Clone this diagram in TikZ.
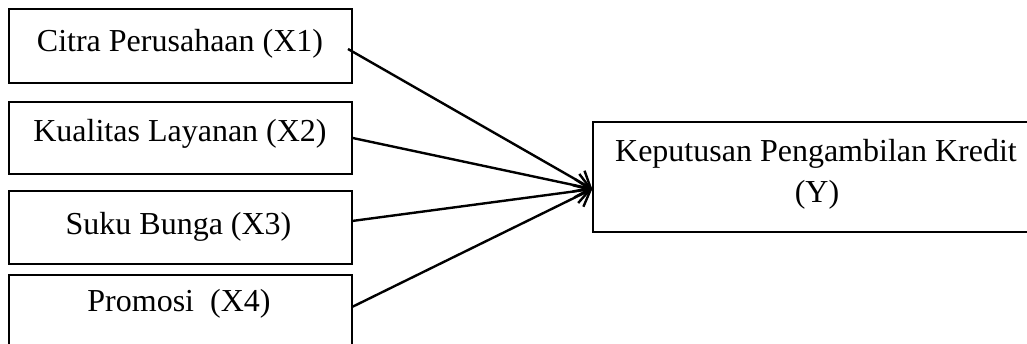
\documentclass[tikz,border=0pt]{standalone}
\usepackage{fontspec}
\setmainfont{Liberation Serif}
\usetikzlibrary{arrows.meta,calc}
\begin{document}
\begin{tikzpicture}[x=1pt,y=-1pt,
  box/.style={draw=black, line width=1.4pt, rectangle, inner sep=0pt},
  lbl/.style={anchor=base, inner sep=0pt, font=\fontsize{32pt}{41pt}\selectfont},
  conn/.style={line width=2.4pt, -{Straight Barb[length=14pt,width=24pt,line width=2.4pt]}}]
\useasboundingbox (0,0) rectangle (1027,344);
\begin{scope}
\clip (0,0) rectangle (1027,344);
\node[box, minimum width=343pt, minimum height=74pt] (b1) at (180.5,46) {};
\node[box, minimum width=343pt, minimum height=72pt] (b2) at (180.5,138) {};
\node[box, minimum width=343pt, minimum height=73pt] (b3) at (180.5,227.5) {};
\node[box, minimum width=343pt, minimum height=90pt] (b4) at (180.5,320) {};
\node[box, minimum width=450pt, minimum height=110pt] (b5) at (818,177) {};
\end{scope}
\node[lbl] (t1) at (180,52) {Citra Perusahaan (X1)};
\node[lbl] (t2) at (180,142) {Kualitas Layanan (X2)};
\node[lbl] (t3) at (178.5,235) {Suku Bunga (X3)};
\node[lbl] (t4) at (179,312) {Promosi\ \ (X4)};
\node[lbl] (t5) at (816,162) {Keputusan Pengambilan Kredit};
\node[lbl] (t6) at (817,203) {(Y)};
\coordinate (s1) at (348,49);
\coordinate (s2) at (b2.east);
\coordinate (s3) at (352,221);
\coordinate (s4) at (352,307);
\coordinate (tip) at ($(b5.west)+(0,12)$);
\draw[conn] (s1) -- (tip);
\draw[conn] (s2) -- (tip);
\draw[conn] (s3) -- (tip);
\draw[conn] (s4) -- (tip);
\end{tikzpicture}
\end{document}
